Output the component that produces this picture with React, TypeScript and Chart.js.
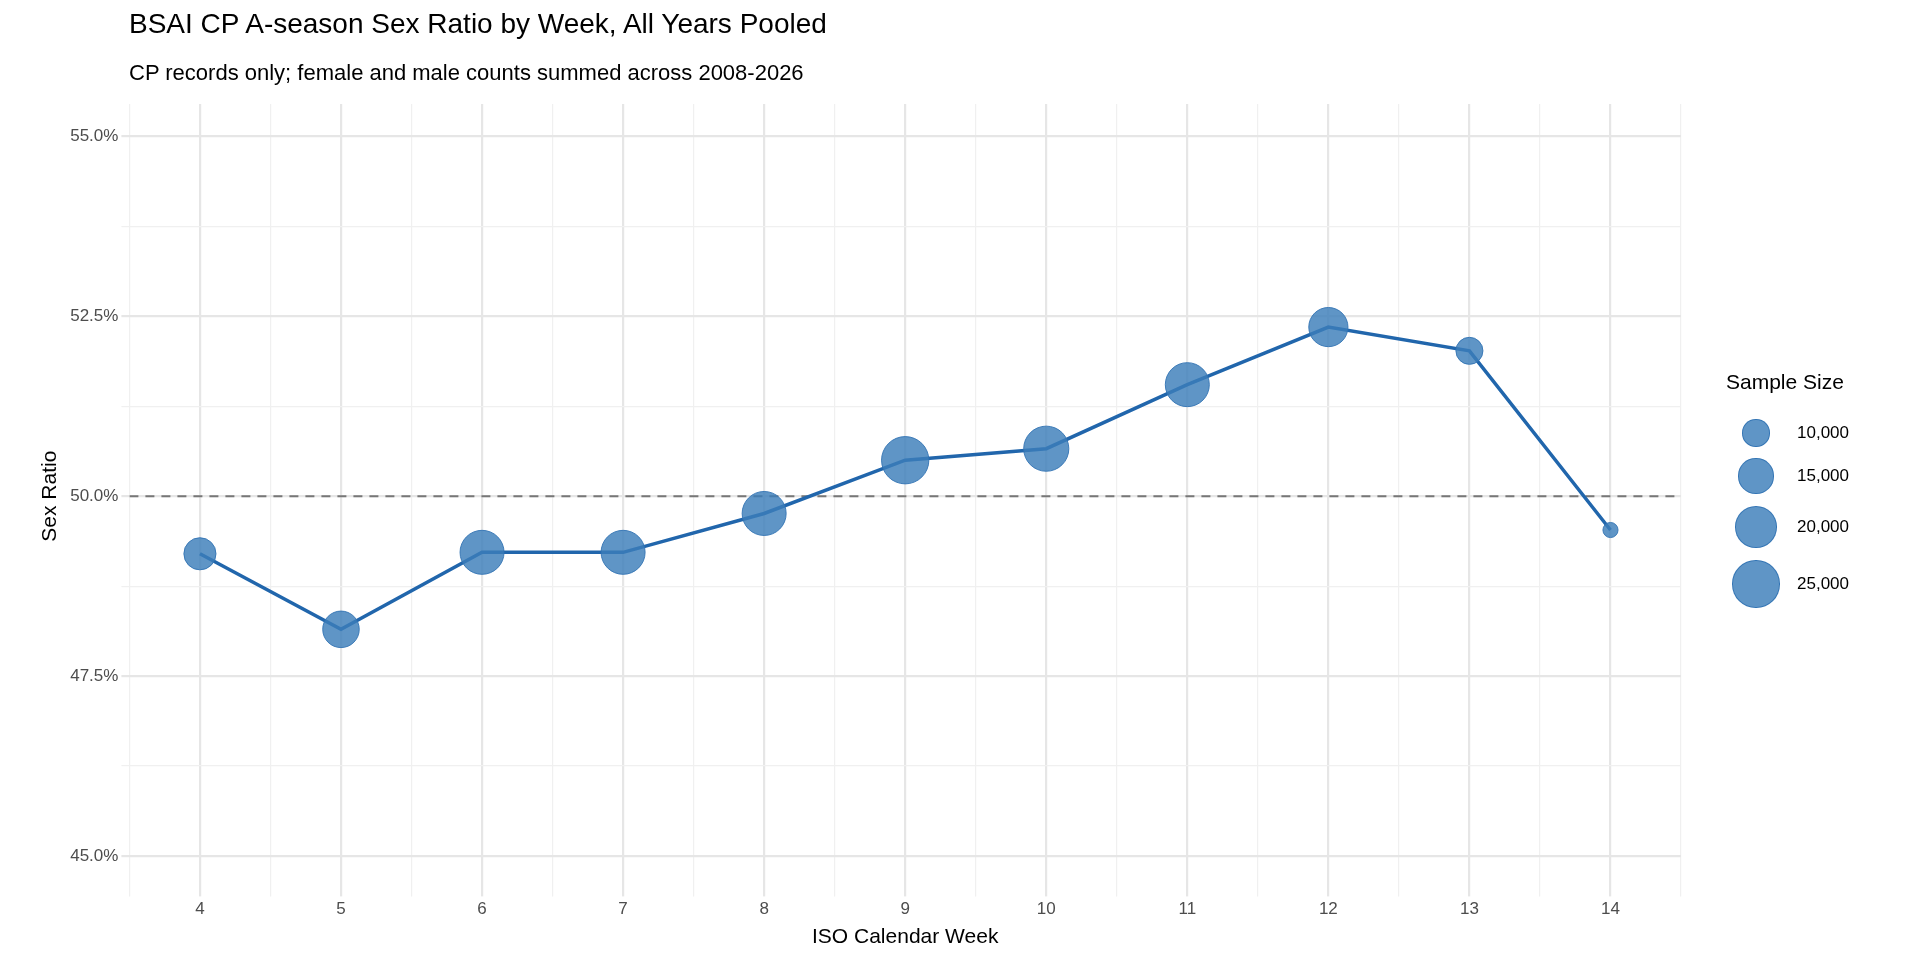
import React, { useEffect, useRef } from "react";
import { Chart, registerables } from "chart.js";
Chart.register(...registerables);

const weeks = [4, 5, 6, 7, 8, 9, 10, 11, 12, 13, 14];
const sexRatio = [49.2, 48.15, 49.22, 49.22, 49.76, 50.5, 50.66, 51.55, 52.35, 52.02, 49.53];
const sampleSize = [13000, 16000, 22000, 22000, 22000, 25000, 23000, 22000, 18000, 10000, 5000];
const legendSizes = [10000, 15000, 20000, 25000];
const refLineX = [3.5, 14.5];
const refLineY = [50, 50];

const radius = (n: number) => Math.sqrt(Math.max(4, -54 + 0.0198 * n)) * 1.2245 * 0.92;

export default function App() {
  const ref = useRef<HTMLCanvasElement>(null);
  useEffect(() => {
    const font = "Liberation Sans, Arial, sans-serif";
    const chart = new Chart(ref.current!, {
      type: "scatter",
      data: {
        datasets: [
          {
            type: "scatter",
            data: weeks.map((w, i) => ({ x: w, y: sexRatio[i] })),
            pointRadius: sampleSize.map(radius),
            pointHoverRadius: sampleSize.map(radius),
            backgroundColor: "rgba(60,126,185,0.82)",
            borderColor: "rgba(50,115,180,0.9)",
            borderWidth: 1,
            order: 0,
          },
          {
            type: "line",
            data: weeks.map((w, i) => ({ x: w, y: sexRatio[i] })),
            borderColor: "#2166ac",
            borderWidth: 3.5,
            pointRadius: 0,
            order: 1,
          },
          {
            type: "line",
            data: refLineX.map((x, i) => ({ x, y: refLineY[i] })),
            borderColor: "#777777",
            borderWidth: 2,
            borderDash: [9, 7],
            pointRadius: 0,
            order: 2,
          },
        ],
      },
      options: {
        animation: false,
        responsive: false,
        layout: { padding: { left: 34, right: 239, top: 104, bottom: 6 } },
        plugins: {
          legend: { display: false },
          tooltip: { enabled: false },
        },
        scales: {
          x: {
            type: "linear", min: 3.5, max: 14.5,
            border: { display: false },
            grid: {
              color: (c: any) => (Number.isInteger(c.tick.value) ? "#e6e6e6" : "#f0f0f0"),
              lineWidth: (c: any) => (Number.isInteger(c.tick.value) ? 2.2 : 1.2),
              tickLength: 8,
            },
            ticks: {
              stepSize: 0.5, autoSkip: false, maxRotation: 0, color: "#4d4d4d",
              font: { family: font, size: 17 },
              callback: (v: any) => (Number.isInteger(v) ? String(v) : ""),
            },
            title: { display: true, text: "ISO Calendar Week", color: "#000", font: { family: font, size: 21 }, padding: { top: 2 } },
          },
          y: {
            min: 44.55, max: 55.45,
            border: { display: false },
            afterBuildTicks: (s: any) => {
              const t = [];
              for (let v = 45; v <= 55.01; v += 1.25) t.push({ value: v });
              s.ticks = t;
            },
            grid: {
              color: (c: any) => (Math.abs(c.tick.value / 2.5 - Math.round(c.tick.value / 2.5)) < 1e-6 ? "#e6e6e6" : "#f0f0f0"),
              lineWidth: (c: any) => (Math.abs(c.tick.value / 2.5 - Math.round(c.tick.value / 2.5)) < 1e-6 ? 2.2 : 1.2),
              tickLength: 8,
            },
            ticks: {
              color: "#4d4d4d", font: { family: font, size: 17 },
              callback: (v: any) => (Math.abs(v / 2.5 - Math.round(v / 2.5)) < 1e-6 ? Number(v).toFixed(1) + "%" : ""),
            },
            title: { display: true, text: "Sex Ratio", color: "#000", font: { family: font, size: 21 } },
          },
        },
      },
    } as any);
    return () => chart.destroy();
  }, []);
  const legendY = [433, 476, 527, 584];
  return (
    <div style={{ position: "absolute", left: 0, top: 0, width: 1920, height: 960, background: "#fff", fontFamily: "Liberation Sans, Arial, sans-serif" }}>
      <canvas ref={ref} width={1920} height={960} />
      <div style={{ position: "absolute", left: 129, top: 8, fontSize: 28, color: "#000", whiteSpace: "nowrap" }}>BSAI CP A-season Sex Ratio by Week, All Years Pooled</div>
      <div style={{ position: "absolute", left: 129, top: 60, fontSize: 22, color: "#000", whiteSpace: "nowrap" }}>CP records only; female and male counts summed across 2008-2026</div>
      <div style={{ position: "absolute", left: 1726, top: 370, fontSize: 21, color: "#000" }}>Sample Size</div>
      {legendSizes.map((n, i) => {
        const r = radius(n);
        return (
          <React.Fragment key={n}>
            <div style={{ position: "absolute", left: 1756 - r, top: legendY[i] - r, width: 2 * r, height: 2 * r, borderRadius: "50%", background: "rgba(60,126,185,0.82)", boxSizing: "border-box", border: "1px solid rgba(50,115,180,0.9)" }} />
            <div style={{ position: "absolute", left: 1797, top: legendY[i] - 10, fontSize: 17, color: "#000" }}>{n.toLocaleString("en-US")}</div>
          </React.Fragment>
        );
      })}
    </div>
  );
}
